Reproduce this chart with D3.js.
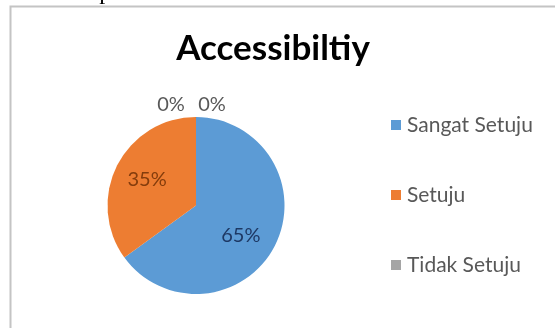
<!DOCTYPE html>
<html>
<head>
<meta charset="utf-8">
<script src="https://cdn.jsdelivr.net/npm/d3@7"></script>
<style>
  html, body { margin: 0; padding: 0; background: #fff; overflow: hidden; }
  svg { display: block; }
</style>
</head>
<body>
<svg id="chart" width="555" height="328"></svg>
<script>
// Survey answers for "Accessibiltiy"
const categories = ["Sangat Setuju", "Setuju", "Tidak Setuju"];
const percents = [65, 35, 0, 0];
const sliceLabels = ["65%", "35%", "0%", "0%"];
const colors = ["#5B9BD5", "#ED7D31", "#A5A5A5", "#A5A5A5"];
const labelColors = ["#1F3864", "#843C0C", "#595959", "#595959"];

const W = 555, H = 328;
const svg = d3.select("#chart");

const defs = svg.append("defs");
defs.append("filter").attr("id", "soft")
  .append("feGaussianBlur").attr("stdDeviation", 0.45);

const root = svg.append("g").attr("filter", "url(#soft)");

// caption line of the surrounding document, cut at the top
root.append("text")
  .attr("x", 20).attr("y", -1)
  .attr("font-family", "Liberation Serif, serif")
  .attr("font-size", 24)
  .attr("fill", "#000")
  .text("website portal.");

// chart frame
root.append("rect")
  .attr("x", 10.5).attr("y", 6.5)
  .attr("width", W).attr("height", H)
  .attr("fill", "#fff")
  .attr("stroke", "#c4c4c4").attr("stroke-width", 2);

// title
root.append("text")
  .attr("x", 273).attr("y", 60)
  .attr("text-anchor", "middle")
  .attr("font-family", "Lato, sans-serif")
  .attr("font-weight", "bold")
  .attr("font-size", 35)
  .attr("fill", "#000")
  .text("Accessibiltiy");

// pie
const cx = 196, cy = 205.5, r = 88.5;
const pie = d3.pie().sort(null).value(d => d)(percents);
const arc = d3.arc().innerRadius(0).outerRadius(r);
const g = root.append("g").attr("transform", `translate(${cx},${cy})`);

g.selectAll("path").data(pie).join("path")
  .attr("d", arc)
  .attr("fill", (d, i) => colors[i]);

// label placement: inner labels for visible slices, outer for empty ones
const inner = d3.arc().innerRadius(r * 0.62).outerRadius(r * 0.62);
const labelPos = pie.map((d, i) => {
  if (d.value > 0) {
    const [x, y] = inner.centroid(d);
    return i === 0 ? [x - 4, y + 5] : [x, y - 2];
  }
  const dx = i === 2 ? -25 : 16;
  return [dx, -r - 13];
});

g.selectAll("text.lbl").data(pie).join("text")
  .attr("class", "lbl")
  .attr("x", (d, i) => labelPos[i][0])
  .attr("y", (d, i) => labelPos[i][1])
  .attr("dy", "0.35em")
  .attr("text-anchor", "middle")
  .attr("font-family", "Lato, sans-serif")
  .attr("font-size", 20)
  .attr("fill", (d, i) => labelColors[i])
  .text((d, i) => sliceLabels[i]);

// legend
const legendY = d3.scalePoint().domain(categories).range([125, 265]);
const lg = root.append("g");
categories.forEach((c, i) => {
  const y = legendY(c);
  lg.append("rect")
    .attr("x", 391).attr("y", y - 5)
    .attr("width", 10).attr("height", 10)
    .attr("fill", colors[i]);
  lg.append("text")
    .attr("x", 407).attr("y", y)
    .attr("dy", "0.35em")
    .attr("font-family", "Lato, sans-serif")
    .attr("font-size", 21)
    .attr("fill", "#595959")
    .text(c);
});
</script>
</body>
</html>
